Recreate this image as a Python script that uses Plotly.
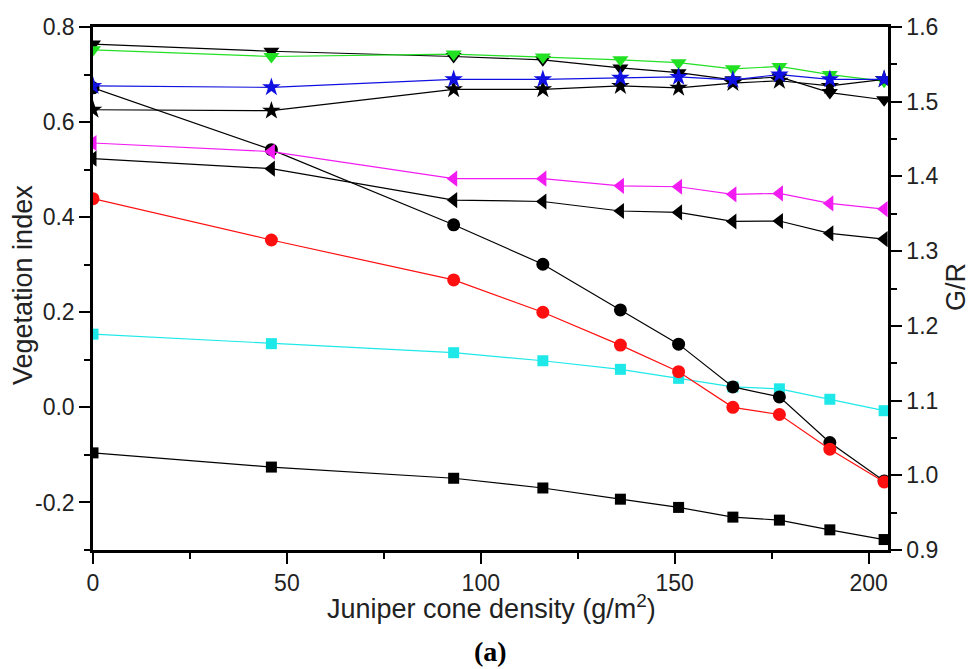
import plotly.graph_objects as go

# Juniper cone density (g/m^2)
density = [0, 46, 93, 116, 136, 151, 165, 177, 190, 204]

# Vegetation index series (left axis)
cyan_sq = [0.154, 0.134, 0.115, 0.098, 0.080, 0.061, 0.043, 0.039, 0.017, -0.007]
black_circ = [0.672, 0.542, 0.384, 0.301, 0.205, 0.133, 0.043, 0.022, -0.074, -0.155]
red_circ = [0.439, 0.352, 0.268, 0.200, 0.131, 0.075, 0.000, -0.015, -0.088, -0.157]
black_ltri = [0.523, 0.502, 0.436, 0.433, 0.413, 0.410, 0.391, 0.392, 0.366, 0.354]
magenta_ltri = [0.556, 0.538, 0.481, 0.481, 0.466, 0.464, 0.448, 0.450, 0.429, 0.417]
black_dtri = [0.764, 0.749, 0.738, 0.731, 0.714, 0.704, 0.689, 0.695, 0.662, 0.647]
green_dtri = [0.752, 0.738, 0.743, 0.737, 0.731, 0.725, 0.712, 0.717, 0.700, 0.686]
black_star = [0.626, 0.624, 0.669, 0.669, 0.676, 0.672, 0.682, 0.687, 0.676, 0.690]
blue_star = [0.676, 0.673, 0.690, 0.690, 0.693, 0.695, 0.689, 0.700, 0.690, 0.690]

# G/R series (right axis)
gr_ratio = [1.030, 1.011, 0.996, 0.983, 0.968, 0.957, 0.944, 0.940, 0.927, 0.914]

# Axis ticks
x_ticks = [0, 50, 100, 150, 200]
y_ticks = [-0.2, 0.0, 0.2, 0.4, 0.6, 0.8]
y_tick_text = ["-0.2", "0.0", "0.2", "0.4", "0.6", "0.8"]
y2_ticks = [0.9, 1.0, 1.1, 1.2, 1.3, 1.4, 1.5, 1.6]
y2_tick_text = ["0.9", "1.0", "1.1", "1.2", "1.3", "1.4", "1.5", "1.6"]

FONT = "Liberation Sans, Arial, sans-serif"
TXT = "#222222"
TICK_SIZE = 23
TITLE_SIZE = 27

fig = go.Figure()


def add_series(y, color, symbol, size, yaxis="y"):
    fig.add_trace(go.Scatter(
        x=density, y=y, mode="lines+markers", yaxis=yaxis,
        line=dict(color=color, width=1.2),
        marker=dict(color=color, symbol=symbol, size=size, line=dict(width=0)),
        showlegend=False, cliponaxis=True,
    ))


add_series(gr_ratio, "#000000", "square", 11, yaxis="y2")
add_series(cyan_sq, "#1fe8e8", "square", 11)
add_series(black_circ, "#000000", "circle", 13)
add_series(red_circ, "#ff1010", "circle", 13)
add_series(black_ltri, "#000000", "triangle-left", 14)
add_series(magenta_ltri, "#f21cf2", "triangle-left", 14)
add_series(black_dtri, "#000000", "triangle-down", 14)
add_series(green_dtri, "#22e022", "triangle-down", 14)
add_series(black_star, "#000000", "star", 14)
add_series(blue_star, "#1010e0", "star", 14)

axis_common = dict(
    showline=True, linecolor="black", linewidth=2.5,
    ticks="outside", ticklen=11, tickwidth=2, tickcolor="black",
    showgrid=False, zeroline=False,
    tickfont=dict(family=FONT, size=TICK_SIZE, color=TXT),
)

fig.update_layout(
    width=973, height=669,
    margin=dict(l=93, r=85, t=27, b=119),
    plot_bgcolor="white", paper_bgcolor="white",
    xaxis=dict(
        range=[0, 205], tickvals=x_ticks, mirror=True,
        minor=dict(ticks="outside", ticklen=6, tickwidth=2, dtick=25, tick0=0, tickcolor="black"),
        **axis_common,
    ),
    yaxis=dict(
        range=[-0.3, 0.8], tickvals=y_ticks, ticktext=y_tick_text,
        minor=dict(ticks="outside", ticklen=6, tickwidth=2, dtick=0.1, tick0=0, tickcolor="black"),
        **axis_common,
    ),
    yaxis2=dict(
        range=[0.9, 1.6], tickvals=y2_ticks, ticktext=y2_tick_text,
        overlaying="y", side="right",
        minor=dict(ticks="outside", ticklen=6, tickwidth=2, dtick=0.05, tick0=0.9, tickcolor="black"),
        **axis_common,
    ),
    annotations=[
        dict(text="Juniper cone density (g/m<sup>2</sup>)", x=491, y=607, showarrow=False,
             font=dict(family=FONT, size=TITLE_SIZE, color=TXT)),
        dict(text="Vegetation index", x=23, y=285, textangle=-90, showarrow=False,
             font=dict(family=FONT, size=TITLE_SIZE, color=TXT)),
        dict(text="G/R", x=956, y=287, textangle=-90, showarrow=False,
             font=dict(family=FONT, size=TITLE_SIZE, color=TXT)),
        dict(text="<b>(a)</b>", x=490, y=651, showarrow=False,
             font=dict(family="Liberation Serif, Times New Roman, serif", size=28, color="black")),
    ],
)

# Annotation positions are given in pixels; convert them to paper coordinates.
W, H = 973, 669
L, R, T, B = 93, 85, 27, 119
pw, ph = W - L - R, H - T - B
for ann in fig.layout.annotations:
    px, py = ann.x, ann.y
    ann.xref = "paper"
    ann.yref = "paper"
    ann.x = (px - L) / pw
    ann.y = (H - B - py) / ph
    ann.xanchor = "center"
    ann.yanchor = "middle"

fig.write_html("out.html")
